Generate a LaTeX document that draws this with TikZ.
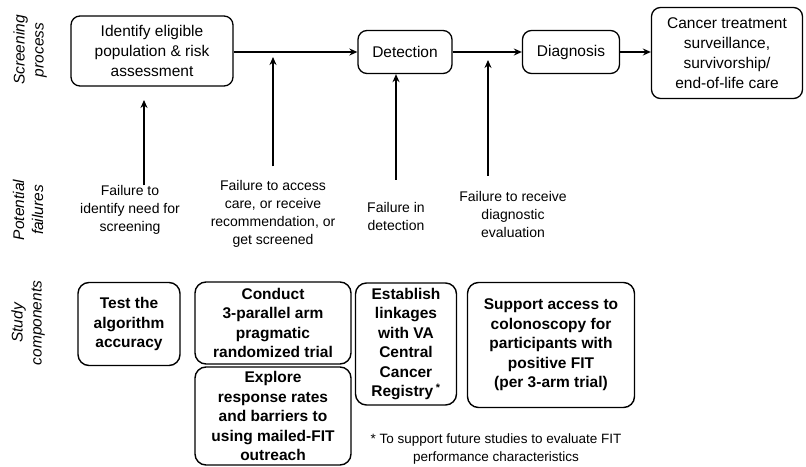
\documentclass[tikz,border=0pt]{standalone}
\usepackage{fontspec}
\setmainfont{Liberation Sans}
\usetikzlibrary{positioning,arrows.meta}
\tikzset{
  procbox/.style={draw, rounded corners=9pt, line width=1.3pt, align=center, inner sep=2pt,
                  font=\fontsize{15.5}{20}\selectfont},
  studybox/.style={draw, rounded corners=11pt, line width=1.4pt, align=center, inner sep=2pt,
                   font=\fontsize{15.5}{19.5}\selectfont\bfseries},
  failtext/.style={align=center, inner sep=0pt, font=\fontsize{14}{18}\selectfont},
  rowlabel/.style={rotate=90, align=center, font=\fontsize{15.5}{19}\selectfont\itshape},
  fwd/.style={-{Stealth[length=8pt,width=7pt]}, line width=1.3pt},
}

\begin{document}
\begin{tikzpicture}[x=1pt, y=-1pt]
  \useasboundingbox (0,0) rectangle (806,466);

  % row labels
  \node[rowlabel] (lscreen) at (30,50) {Screening\\process};
  \node[rowlabel] (lfail) at (28,210) {Potential\\failures};
  \node[rowlabel] (lstudy) at (28,323) {Study\\components};

  % screening process
  \node[procbox, minimum width=162pt, minimum height=70pt] (ident) at (152,51) {Identify eligible\\population \& risk\\assessment};
  \node[procbox, minimum width=94pt, minimum height=43pt] (det) at (405,52) {Detection};
  \node[procbox, minimum width=97pt, minimum height=43pt] (diag) at (571,52) {Diagnosis};
  \node[procbox, minimum width=151pt, minimum height=91pt] (care) at (727,53) {Cancer treatment\\surveillance,\\survivorship/\\end-of-life care};

  \draw[fwd] (ident.east |- det) -- (det.west);
  \draw[fwd] (det.east) -- (diag.west);
  \draw[fwd] (diag.east) -- (diag.east -| care.west);

  % potential failures
  \node[failtext] (f1) at (130,210) {Failure to\\identify need for\\screening};
  \node[failtext] (f2) at (273,214) {Failure to access\\care, or receive\\recommendation, or\\get screened};
  \node[failtext] (f3) at (396,216) {Failure in\\detection};
  \node[failtext] (f4) at (513,214) {Failure to receive\\diagnostic\\evaluation};

  \coordinate (a1) at (144,100);
  \coordinate (a2) at (273,57);
  \coordinate (a4) at (488,60);

  \draw[fwd] (f1.north -| a1) -- (a1);
  \draw[fwd] ([yshift=14pt]f2.north) -- (a2);
  \draw[fwd] ([yshift=22pt]f3.north) -- (f3.north |- det.south);
  \draw[fwd] ([yshift=15pt]f4.north -| a4) -- (a4);

  % study components
  \node[studybox, minimum width=102pt, minimum height=83pt] (algo) at (129,324) {Test the\\algorithm\\accuracy};
  \node[studybox, minimum width=156pt, minimum height=82pt] (trial) at (273,323) {Conduct\\3-parallel arm\\pragmatic\\randomized trial};
  \node[studybox, minimum width=156pt, minimum height=98pt] (mailed) at (273,416) {Explore\\response rates\\and barriers to\\using mailed-FIT\\outreach};
  \node[studybox, minimum width=101pt, minimum height=122pt] (registry) at (406,344) {Establish\\linkages\\with VA\\Central\\Cancer\\Registry\,\textsuperscript{*}};
  \node[studybox, minimum width=167pt, minimum height=125pt] (colon) at (551,345) {Support access to\\colonoscopy for\\participants with\\positive FIT\\(per 3-arm trial)};

  \node[failtext, font=\fontsize{13.5}{18}\selectfont] (note) at (496,449) {* To support future studies to evaluate FIT\\performance characteristics};
\end{tikzpicture}
\end{document}
